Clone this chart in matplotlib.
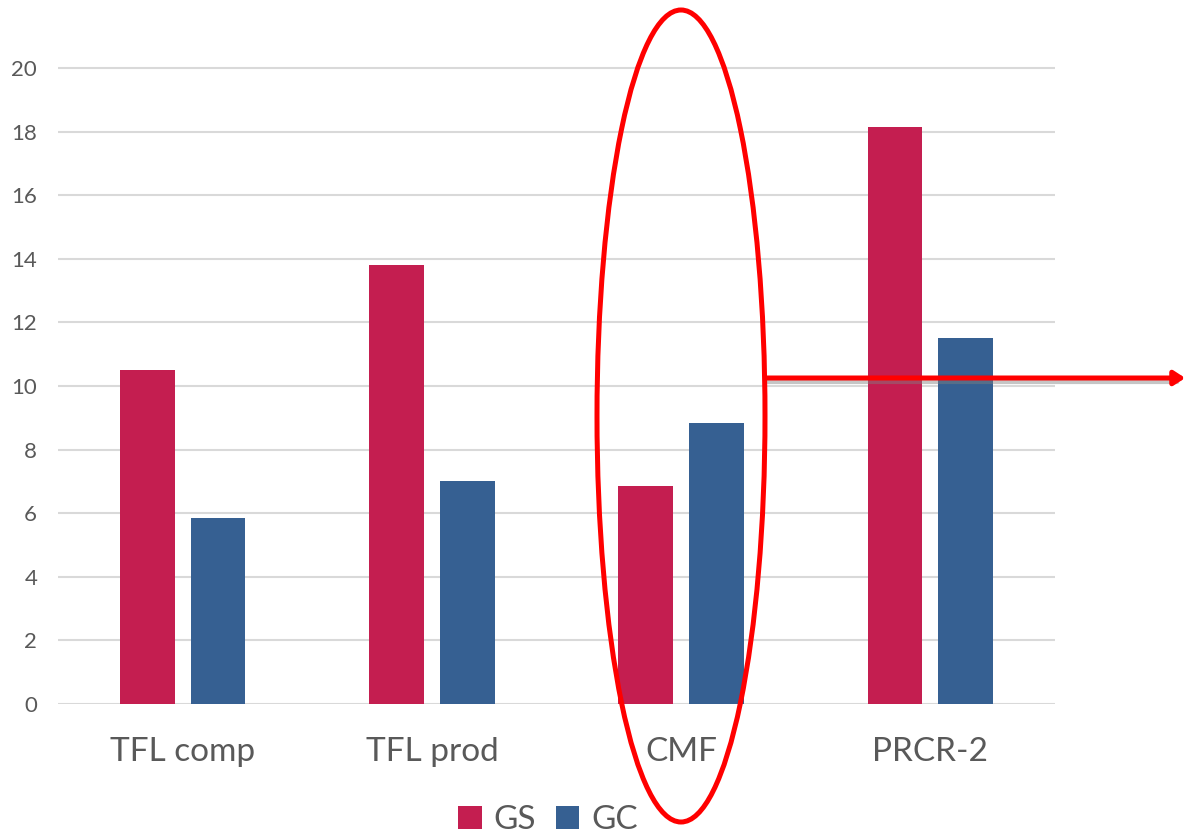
import numpy as np
import matplotlib.pyplot as plt
from matplotlib.patches import Ellipse, FancyArrowPatch

categorias = ['TFL comp', 'TFL prod', 'CMF', 'PRCR-2']
gs = [10.5, 13.8, 6.85, 18.15]
gc = [5.85, 7.0, 8.85, 11.5]
yticks = [0, 2, 4, 6, 8, 10, 12, 14, 16, 18, 20]

COR_GS = '#C41E50'
COR_GC = '#366092'
COR_TXT = '#595959'

plt.rcParams['font.family'] = ['Lato', 'DejaVu Sans']

W, H = 1186, 836
fig = plt.figure(figsize=(W / 100, H / 100), dpi=100)
ax = fig.add_axes([58 / W, 1 - 704 / H, (1055 - 58) / W, (704 - 4.4) / H])

x = np.arange(len(categorias))
larg = 0.22
desl = 0.142
ax.bar(x - desl, gs, larg, color=COR_GS, label='GS', zorder=3)
ax.bar(x + desl, gc, larg, color=COR_GC, label='GC', zorder=3)

ax.set_xlim(-0.5, len(categorias) - 0.5)
ax.set_ylim(0, 22)
ax.set_yticks(yticks)
ax.set_yticklabels([str(v) for v in yticks], fontsize=16, color=COR_TXT)
ax.set_xticks(x)
ax.set_xticklabels(categorias, fontsize=24, color=COR_TXT)
ax.tick_params(axis='x', length=0, pad=24)
ax.tick_params(axis='y', length=0, pad=15)
for v in yticks:
    ax.axhline(v, color='#d9d9d9', lw=1.5, zorder=1)
for s in ax.spines.values():
    s.set_visible(False)

# legenda embaixo, centrada no eixo
fig.legend(loc='lower center', bbox_to_anchor=(548 / W, -0.035), ncol=2,
           frameon=False, fontsize=24, handlelength=0.7, handleheight=0.7,
           handletextpad=0.35, columnspacing=0.6, labelcolor=COR_TXT)

# destaque em vermelho: elipse no CMF e seta para a direita
elipse = Ellipse((681 / W, 1 - 416 / H), 168 / W, 812 / H, transform=fig.transFigure,
                 fill=False, edgecolor='red', lw=3.6, zorder=10)
fig.patches.append(elipse)

y_seta = 1 - 378 / H
sombra = FancyArrowPatch((765 / W, y_seta - 4 / H), (1180 / W, y_seta - 4 / H),
                         transform=fig.transFigure, arrowstyle='-', color='#808080',
                         lw=3.0, alpha=0.45, zorder=9)
fig.patches.append(sombra)
seta = FancyArrowPatch((763 / W, y_seta), (1188 / W, y_seta), transform=fig.transFigure,
                       arrowstyle='-|>,head_length=4,head_width=2.6', mutation_scale=1.6,
                       color='red', lw=3.6, zorder=10)
fig.patches.append(seta)

fig.savefig('out.png', dpi=100)
